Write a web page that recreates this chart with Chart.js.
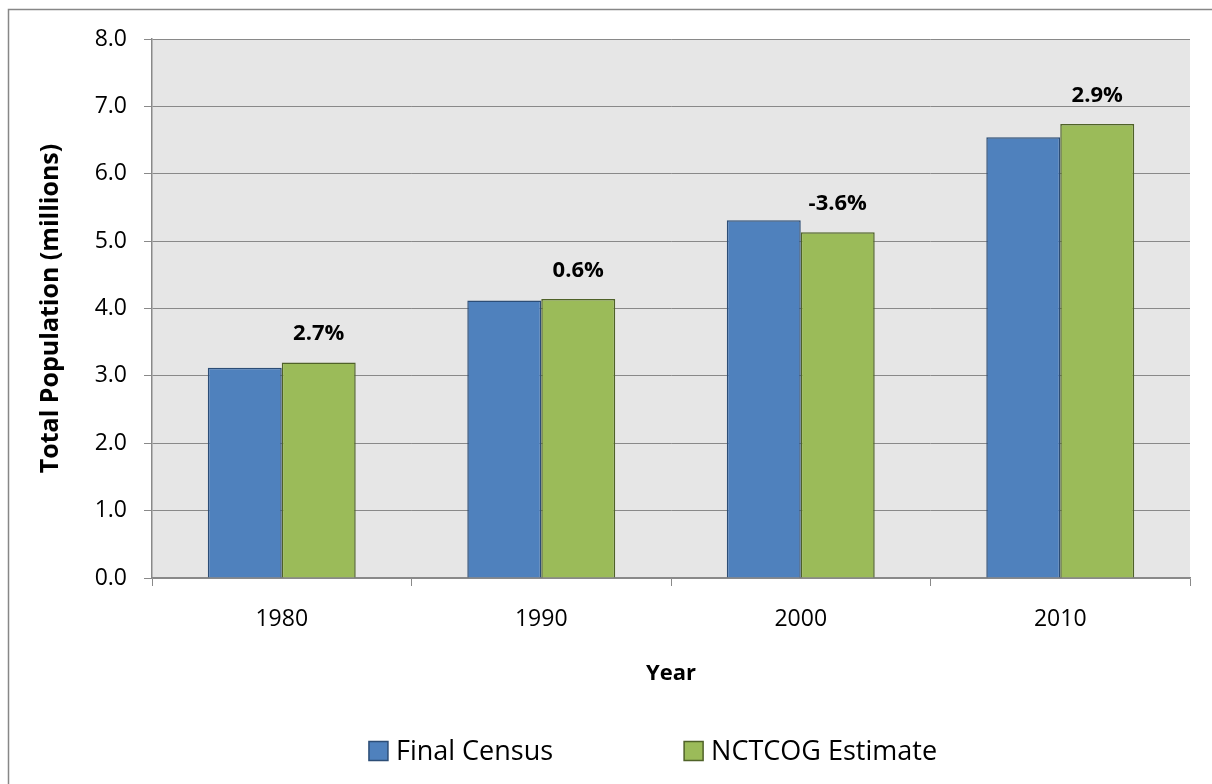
<!DOCTYPE html>
<html>
<head>
<meta charset="utf-8">
<title>Total Population</title>
<script src="https://cdn.jsdelivr.net/npm/chart.js@4.4.0/dist/chart.umd.min.js"></script>
<style>
  html, body { margin: 0; padding: 0; background: #fff; }
  #wrap { width: 1212px; height: 784px; }
</style>
</head>
<body>
<div id="wrap"><canvas id="popChart" width="1212" height="784"></canvas></div>
<script>
// ---- data ----
var years = ['1980', '1990', '2000', '2010'];
var finalCensus = [3.12, 4.12, 5.31, 6.54];
var nctcogEstimate = [3.20, 4.14, 5.13, 6.74];
var pctDiff = ['2.7%', '0.6%', '-3.6%', '2.9%'];
var seriesNames = ['Final Census', 'NCTCOG Estimate'];

var FONT = '"Open Sans"';
var gridGray = '#898989';

// gray plot background + outer chart frame
var backdrop = {
    id: 'backdrop',
    beforeDraw: function(chart) {
        var ctx = chart.ctx, a = chart.chartArea;
        ctx.save();
        ctx.fillStyle = '#fff';
        ctx.fillRect(0, 0, chart.width, chart.height);
        ctx.strokeStyle = '#878787';
        ctx.lineWidth = 1.5;
        ctx.strokeRect(8.5, 9.5, 1400, 1000); // frame runs off the right/bottom edge like the original
        ctx.fillStyle = '#e6e6e6';
        ctx.fillRect(a.left, a.top, a.right - a.left, a.bottom - a.top);
        ctx.restore();
    }
};

// percent difference labels above the estimate bars
var pctLabels = {
    id: 'pctLabels',
    afterDatasetsDraw: function(chart) {
        var ctx = chart.ctx;
        var meta = chart.getDatasetMeta(1);
        ctx.save();
        ctx.font = 'bold 22px ' + FONT;
        ctx.fillStyle = '#000';
        ctx.textAlign = 'center';
        ctx.textBaseline = 'alphabetic';
        meta.data.forEach(function(bar, i) {
            ctx.fillText(pctDiff[i], bar.x, bar.y - 22);
        });
        ctx.restore();
    }
};

// legend drawn by hand, Excel puts a wide gap between the two entries
var bottomLegend = {
    id: 'bottomLegend',
    afterDraw: function(chart) {
        var ctx = chart.ctx;
        var centerX = 653, midY = 751, box = 19, textGap = 8, itemGap = 131;
        ctx.save();
        ctx.font = '27px ' + FONT;
        var sets = chart.data.datasets;
        var widths = sets.map(function(ds) { return box + textGap + ctx.measureText(ds.label).width; });
        var total = widths.reduce(function(s, w) { return s + w; }, 0) + itemGap * (sets.length - 1);
        var x = centerX - total / 2;
        sets.forEach(function(ds, i) {
            ctx.fillStyle = ds.backgroundColor;
            ctx.fillRect(x, midY - box / 2, box, box);
            ctx.strokeStyle = ds.borderColor;
            ctx.lineWidth = 1.5;
            ctx.strokeRect(x, midY - box / 2, box, box);
            ctx.fillStyle = '#000';
            ctx.textBaseline = 'middle';
            ctx.fillText(ds.label, x + box + textGap, midY + 1);
            x += widths[i] + itemGap;
        });
        ctx.restore();
    }
};

var chart = new Chart(document.getElementById('popChart').getContext('2d'), {
    type: 'bar',
    data: {
        labels: years,
        datasets: [
            {
                label: seriesNames[0],
                data: finalCensus,
                backgroundColor: '#4f81bd',
                borderColor: '#2c4d76',
                borderWidth: 1.5,
                borderSkipped: 'bottom',
                categoryPercentage: 0.57,
                barPercentage: 1.0
            },
            {
                label: seriesNames[1],
                data: nctcogEstimate,
                backgroundColor: '#9bbb59',
                borderColor: '#4f6228',
                borderWidth: 1.5,
                borderSkipped: 'bottom',
                categoryPercentage: 0.57,
                barPercentage: 1.0
            }
        ]
    },
    options: {
        responsive: false,
        animation: false,
        layout: { padding: { left: 0, top: 39, right: 22, bottom: 66 } },
        plugins: {
            legend: { display: false },
            tooltip: { enabled: false }
        },
        scales: {
            x: {
                grid: {
                    drawOnChartArea: false,
                    drawTicks: true,
                    tickLength: 8,
                    color: gridGray,
                    offset: true
                },
                border: { color: gridGray, width: 1.5 },
                ticks: {
                    color: '#000',
                    padding: 20,
                    font: { family: FONT, size: 23 }
                },
                title: {
                    display: true,
                    text: 'Year',
                    color: '#000',
                    font: { family: FONT, size: 22, weight: 'bold' },
                    padding: { top: 0, bottom: 31 }
                },
                afterFit: function(scale) { scale.height = 140; }
            },
            y: {
                min: 0,
                max: 8,
                grid: {
                    color: gridGray,
                    lineWidth: 1,
                    drawTicks: true,
                    tickLength: 8
                },
                border: { color: gridGray, width: 1.5 },
                ticks: {
                    stepSize: 1,
                    color: '#000',
                    padding: 17,
                    font: { family: FONT, size: 23 },
                    callback: function(v) { return Number(v).toFixed(1); }
                },
                title: {
                    display: true,
                    text: 'Total Population (millions)',
                    color: '#000',
                    font: { family: FONT, size: 25, weight: 'bold' },
                    padding: { top: 36, bottom: 0 }
                },
                afterFit: function(scale) { scale.width = 152; }
            }
        }
    },
    plugins: [backdrop, pctLabels, bottomLegend]
});
</script>
</body>
</html>
